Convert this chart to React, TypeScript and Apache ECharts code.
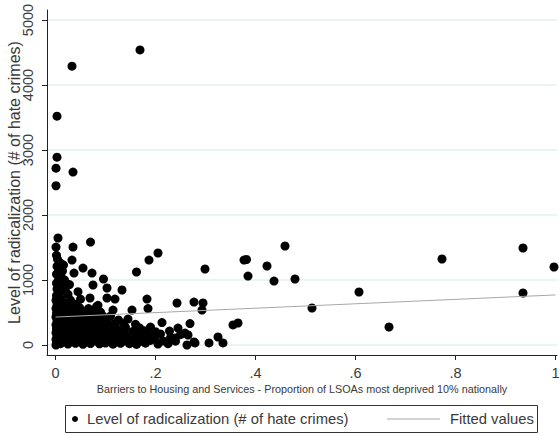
import React, { useEffect, useRef } from 'react';
import * as echarts from 'echarts';

const xTicks = [0, 0.2, 0.4, 0.6, 0.8, 1];
const yTicks = [0, 1000, 2000, 3000, 4000, 5000];
const seriesName = 'Level of radicalization (# of hate crimes)';
const fitName = 'Fitted values';
const xTitle = 'Barriers to Housing and Services - Proportion of LSOAs most deprived 10% nationally';

// fitted regression line endpoints (x, fitted value)
const fittedValues: number[][] = [[0, 430], [1, 770]];

// scattered / high-value local areas
const outliers: number[][] = [
  [0.169, 4540], [0.033, 4290], [0.003, 3520], [0.003, 2890], [0.001, 2720], [0.035, 2660], [0.001, 2450],
  [0.005, 1646], [0.001, 1507], [0.035, 1507], [0.07, 1584], [0.033, 1307], [0.037, 1107], [0.055, 1184],
  [0.073, 1107], [0.096, 1015], [0.075, 923], [0.103, 877], [0.133, 846], [0.162, 1123], [0.187, 1307],
  [0.205, 1415], [0.103, 723], [0.119, 707], [0.069, 723], [0.183, 707], [0.115, 538], [0.153, 538],
  [0.185, 560], [0.243, 646], [0.277, 661], [0.213, 345], [0.245, 261], [0.259, 184], [0.263, 0],
  [0.279, 31], [0.269, 330], [0.239, 108], [0.299, 1169], [0.295, 646], [0.293, 538], [0.307, 31],
  [0.325, 123], [0.335, 31], [0.355, 308], [0.365, 338], [0.377, 1307], [0.382, 1315], [0.385, 1061],
  [0.423, 1215], [0.437, 984], [0.459, 1523], [0.479, 1015], [0.513, 569], [0.607, 815], [0.667, 277],
  [0.773, 1323], [0.935, 1492], [0.935, 800], [0.997, 1200], [0.265, 154], [0.277, 46],
];

// areas with no deprived LSOAs or very few
const nearZero: number[][] = [
  [0.001, 0], [0.002, 40], [0.001, 85], [0.003, 130], [0.001, 190], [0.002, 250], [0.001, 310],
  [0.003, 370], [0.001, 430], [0.002, 490], [0.001, 560], [0.003, 620], [0.001, 690], [0.002, 760],
  [0.008, 800], [0.003, 860], [0.01, 900], [0.002, 950], [0.006, 1000], [0.012, 1040], [0.002, 1090],
  [0.007, 1150], [0.003, 1210], [0.01, 1260], [0.004, 1320], [0.002, 1380], [0.02, 880], [0.025, 780],
  [0.018, 1000], [0.016, 1230], [0.014, 1140], [0.02, 820], [0.028, 930], [0.045, 820],
];

// dense block of low-deprivation, low-count areas
const cluster: number[][] = [
  [0.01, 20], [0.025, 15], [0.04, 25], [0.055, 10], [0.07, 22], [0.088, 18], [0.1, 30], [0.115, 12],
  [0.13, 25], [0.148, 20], [0.162, 8], [0.18, 28], [0.205, 15], [0.225, 20],
  [0.005, 60], [0.018, 65], [0.032, 55], [0.047, 70], [0.062, 58], [0.078, 62], [0.092, 66], [0.108, 54],
  [0.122, 68], [0.137, 60], [0.152, 64], [0.17, 56], [0.19, 70], [0.215, 62], [0.24, 58],
  [0.012, 110], [0.026, 105], [0.041, 115], [0.056, 108], [0.07, 112], [0.084, 104], [0.099, 118],
  [0.113, 106], [0.128, 114], [0.144, 110], [0.158, 102], [0.175, 116], [0.198, 108], [0.23, 112],
  [0.004, 160], [0.02, 158], [0.034, 166], [0.05, 155], [0.065, 162], [0.08, 168], [0.094, 157],
  [0.11, 163], [0.125, 150], [0.14, 165], [0.163, 160], [0.186, 152], [0.21, 170], [0.25, 158],
  [0.01, 215], [0.024, 220], [0.039, 210], [0.054, 218], [0.069, 212], [0.083, 222], [0.097, 208],
  [0.117, 216], [0.133, 224], [0.155, 211], [0.178, 219], [0.2, 205], [0.228, 214],
  [0.006, 270], [0.017, 265], [0.03, 275], [0.045, 268], [0.06, 280], [0.076, 262], [0.091, 274],
  [0.106, 266], [0.12, 278], [0.14, 270], [0.168, 264], [0.19, 276],
  [0.012, 330], [0.027, 325], [0.043, 338], [0.058, 322], [0.073, 334], [0.088, 328], [0.104, 340],
  [0.118, 326], [0.136, 332], [0.16, 318],
  [0.004, 390], [0.02, 385], [0.036, 396], [0.052, 388], [0.066, 392], [0.082, 380], [0.098, 394],
  [0.126, 386], [0.145, 398],
  [0.013, 450], [0.028, 455], [0.044, 445], [0.06, 460], [0.078, 448], [0.094, 452], [0.11, 442],
  [0.006, 510], [0.022, 505], [0.038, 515], [0.054, 500], [0.072, 512], [0.09, 506],
  [0.015, 570], [0.03, 565], [0.048, 575], [0.066, 560], [0.082, 590],
  [0.008, 630], [0.024, 640], [0.04, 625], [0.085, 610],
  [0.012, 700], [0.03, 690], [0.05, 705],
];

const scatterPoints: number[][] = [...nearZero, ...cluster, ...outliers];

const FONT = 'Liberation Sans, Arial, sans-serif';
const TEXT = '#3a3a3a';

export default function App() {
  const ref = useRef<HTMLDivElement>(null);
  useEffect(() => {
    if (!ref.current) return;
    const chart = echarts.init(ref.current, undefined, { renderer: 'svg' });
    const fmtX = (v: number) => {
      const s = String(Math.round(v * 10) / 10);
      return s.startsWith('0.') ? s.slice(1) : s;
    };
    chart.setOption({
      animation: false,
      backgroundColor: '#ffffff',
      textStyle: { fontFamily: FONT },
      grid: { left: 47, right: 3, top: 10, bottom: 81, containLabel: false, outerBoundsMode: 'none' },
      xAxis: {
        type: 'value',
        min: -0.017,
        max: 1.003,
        name: xTitle,
        nameLocation: 'middle',
        nameGap: 28,
        nameMoveOverlap: false,
        nameTextStyle: { fontSize: 10.8, color: TEXT, fontFamily: FONT },
        axisLine: { show: true, onZero: false, lineStyle: { color: '#222', width: 1 } },
        axisTick: { show: true, length: 5, customValues: xTicks, lineStyle: { color: '#222' } },
        axisLabel: {
          customValues: xTicks,
          formatter: fmtX,
          fontSize: 14.5,
          color: TEXT,
          margin: 10,
          fontFamily: FONT,
        },
        splitLine: { show: false },
      },
      yAxis: {
        type: 'value',
        min: -154,
        max: 5154,
        name: seriesName,
        nameLocation: 'middle',
        nameRotate: 90,
        nameGap: 25,
        nameMoveOverlap: false,
        nameTextStyle: { fontSize: 16, color: TEXT, fontFamily: FONT },
        axisLine: { show: true, onZero: false, lineStyle: { color: '#222', width: 1 } },
        axisTick: { show: true, length: 5, customValues: yTicks, lineStyle: { color: '#222' } },
        axisLabel: {
          customValues: yTicks,
          formatter: (v: number) => String(v),
          rotate: 90,
          fontSize: 14.5,
          color: TEXT,
          margin: 12,
          fontFamily: FONT,
        },
        splitLine: { show: false },
      },
      series: [
        {
          name: 'grid',
          type: 'line',
          data: [],
          silent: true,
          z: 0,
          markLine: {
            z: 0,
            silent: true,
            symbol: ['none', 'none'],
            label: { show: false },
            lineStyle: { color: '#e6eff1', type: 'solid', width: 1.5 },
            data: yTicks.map((v) => ({ yAxis: v })),
          },
        },
        {
          name: seriesName,
          type: 'scatter',
          data: scatterPoints,
          symbol: 'circle',
          symbolSize: 9,
          itemStyle: { color: '#000000', opacity: 1 },
          z: 2,
        },
        {
          name: fitName,
          type: 'line',
          data: fittedValues,
          showSymbol: false,
          symbol: 'none',
          lineStyle: { color: '#a8a8a8', width: 1 },
          z: 3,
        },
      ],
      graphic: [
        {
          type: 'rect',
          shape: { x: 65.5, y: 405.5, width: 472, height: 27 },
          style: { fill: '#fff', stroke: '#333', lineWidth: 1 },
        },
        { type: 'circle', shape: { cx: 75, cy: 419, r: 3 }, style: { fill: '#000' } },
        {
          type: 'text',
          x: 87,
          y: 419,
          style: { text: seriesName, fontSize: 14.8, fill: TEXT, verticalAlign: 'middle', fontFamily: FONT },
        },
        {
          type: 'line',
          shape: { x1: 387, y1: 419, x2: 440, y2: 419 },
          style: { stroke: '#a8a8a8', lineWidth: 1 },
        },
        {
          type: 'text',
          x: 450,
          y: 419,
          style: { text: fitName, fontSize: 14.8, fill: TEXT, verticalAlign: 'middle', fontFamily: FONT },
        },
      ],
    });
    return () => chart.dispose();
  }, []);
  return <div ref={ref} style={{ width: 560, height: 436, position: 'absolute', left: 0, top: 0 }} />;
}
